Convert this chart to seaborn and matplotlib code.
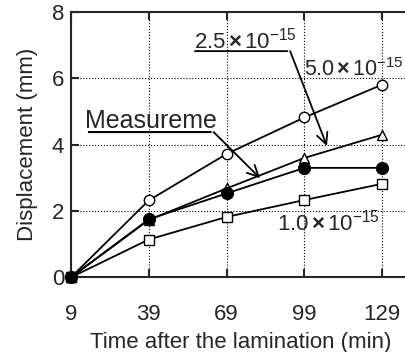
import pandas as pd
import seaborn as sns
import matplotlib.pyplot as plt

time_min = [9, 39, 69, 99, 129]
measured = [0, 1.75, 2.53, 3.30, 3.30]
k_1_0 = [0, 1.14, 1.82, 2.33, 2.82]
k_2_5 = [0, 1.73, 2.68, 3.60, 4.30]
k_5_0 = [0, 2.32, 3.72, 4.82, 5.81]
x_ticks = [9, 39, 69, 99, 129]
y_ticks = [0, 2, 4, 6, 8]

sns.set_style('ticks')
plt.rcParams['font.family'] = ['Liberation Sans', 'DejaVu Sans']
plt.rcParams['mathtext.fontset'] = 'custom'
plt.rcParams['mathtext.rm'] = 'Liberation Sans'
plt.rcParams['mathtext.it'] = 'Liberation Sans'
plt.rcParams['mathtext.bf'] = 'Liberation Sans:bold'

fig = plt.figure(figsize=(4.06, 3.52), dpi=100)
ax = fig.add_axes([0.1749, 0.2122, 0.8367, 0.7537])

series = [
    (k_1_0, 's', 'white', 7.5),
    (k_2_5, '^', 'white', 7.5),
    (k_5_0, 'o', 'white', 7.5),
    (measured, 'o', 'black', 8.5),
]
for vals, mk, fc, ms in series:
    sns.lineplot(x=time_min, y=vals, ax=ax, color='black', lw=1.3,
                 marker=mk, markersize=ms, markerfacecolor=fc,
                 markeredgecolor='black', markeredgewidth=1.0,
                 clip_on=False, zorder=3)

ax.set_xlim(9, 140)
ax.set_ylim(0, 8)
ax.set_xticks(x_ticks)
ax.set_yticks(y_ticks)
ax.grid(True, color='black', linestyle=':', linewidth=0.8)
ax.tick_params(direction='in', length=6, width=1.5, labelsize=16, top=True)
ax.tick_params(axis='x', pad=19)
ax.tick_params(axis='y', pad=5)
for s in ax.spines.values():
    s.set_linewidth(1.5)
ax.set_xlabel('Time after the lamination (min)', fontsize=16, labelpad=5)
ax.set_ylabel('Displacement (mm)', fontsize=16, labelpad=10)

tfs = 16
def sci(m):
    return m + r'$\,\mathbf{\times}\,$10$^{-15}$'

ax.text(56.5, 7.15, sci('2.5'), fontsize=tfs, va='center')
ax.annotate('', xy=(93.5, 6.82), xytext=(55.7, 6.82),
            arrowprops=dict(arrowstyle='-', color='black', lw=1.3))
ax.annotate('', xy=(107.7, 3.96), xytext=(93.5, 6.82),
            arrowprops=dict(arrowstyle='->', color='black', lw=1.3,
                            mutation_scale=20, shrinkA=0, shrinkB=0))
ax.text(99.0, 6.25, sci('5.0'), fontsize=15.5, va='center')
ax.text(14.5, 4.70, 'Measureme', fontsize=18, va='center')
ax.annotate('', xy=(64.0, 4.38), xytext=(14.8, 4.38),
            arrowprops=dict(arrowstyle='-', color='black', lw=1.5))
ax.annotate('', xy=(81.9, 2.99), xytext=(64.0, 4.38),
            arrowprops=dict(arrowstyle='->', color='black', lw=1.3,
                            mutation_scale=20, shrinkA=0, shrinkB=0))
ax.text(88.4, 1.64, sci('1.0'), fontsize=tfs, va='center')

plt.savefig('out.png', dpi=100)
